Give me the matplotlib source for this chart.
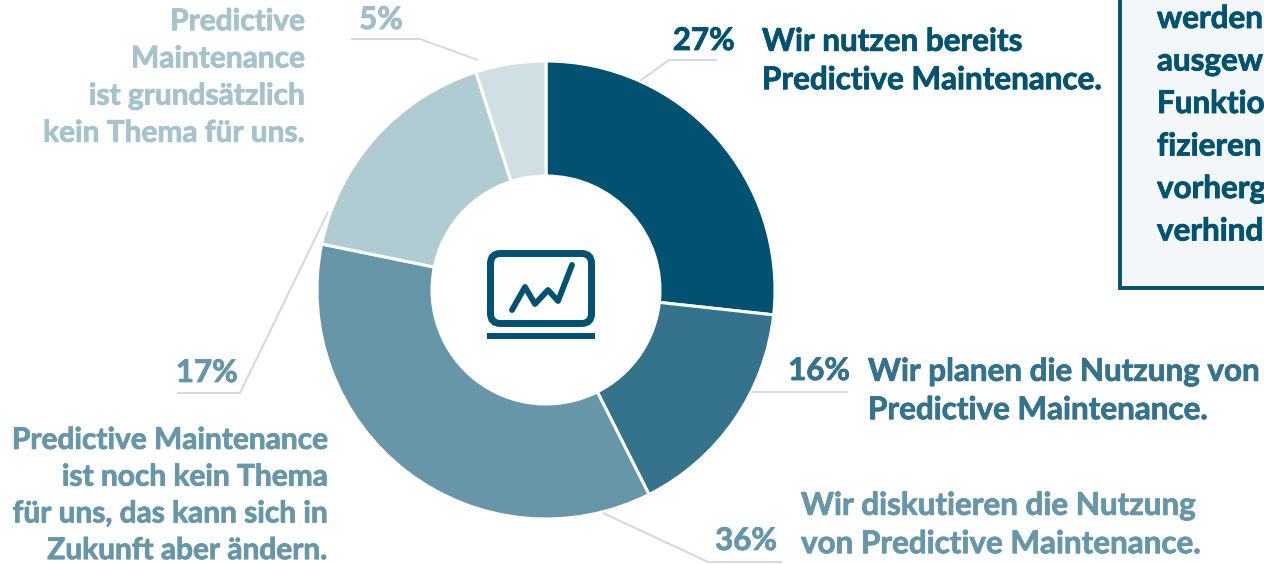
import matplotlib as mpl

mpl.use("Agg")
import matplotlib.patheffects as pe
import matplotlib.pyplot as plt
from matplotlib.patches import FancyBboxPatch, Rectangle

W, H = 1264, 564

shares = [27, 16, 36, 17, 5]
colors = ["#005270", "#35738c", "#6796a9", "#b1cbd3", "#d0dfe4"]
pct_labels = ["27%", "16%", "36%", "17%", "5%"]
labels = [
    "Wir nutzen bereits\nPredictive Maintenance.",
    "Wir planen die Nutzung von\nPredictive Maintenance.",
    "Wir diskutieren die Nutzung\nvon Predictive Maintenance.",
    "Predictive Maintenance\nist noch kein Thema\nfür uns, das kann sich in\nZukunft aber ändern.",
    "Predictive\nMaintenance\nist grundsätzlich\nkein Thema für uns.",
]
box_lines = ["werden", "ausgew", "Funktio", "fizieren", "vorherg", "verhind"]

plt.rcParams["font.family"] = ["Lato", "DejaVu Sans"]
plt.rcParams["font.weight"] = "bold"

fig = plt.figure(figsize=(W / 100, H / 100), dpi=100)
ax = fig.add_axes([0, 0, 1, 1])


def flip(points):
    # layout was read in screen pixels, y runs downward there
    return [p[0] for p in points], [H - p[1] for p in points]


def heavier(c):
    # Lato bold is a bit thin against the original face
    return [pe.withStroke(linewidth=0.6, foreground=c)]


ax.pie(
    shares,
    colors=colors,
    center=(546, H - 290),
    radius=229,
    startangle=90,
    counterclock=False,
    wedgeprops={"width": 115, "edgecolor": "white", "linewidth": 2.2},
)
ax.set_xlim(0, W)
ax.set_ylim(0, H)
ax.set_aspect("equal")
ax.axis("off")

# leader lines
leaders = [
    [(640, 81), (669, 60), (717, 60)],
    [(752, 392), (848, 392)],
    [(603, 513), (708, 562), (782, 562)],
    [(328, 212), (240, 393), (177, 393)],
    [(478, 60), (420, 39), (351, 39)],
]
for pts in leaders:
    xs, ys = flip(pts)
    ax.plot(xs, ys, color="#d9d9d9", lw=1.5, solid_capstyle="butt", zorder=1)

# percentages
pct_pos = [(735, 41, "right"), (850, 371, "right"), (777, 541, "right"),
           (238, 373, "right"), (403, 20, "right")]
for txt, (x, y, ha), c in zip(pct_labels, pct_pos, ["#005270", "#35738c", "#6796a9", "#6796a9", "#9fbec9"]):
    ax.text(x, H - y, txt, color=c, fontsize=22.5, ha=ha, va="center", path_effects=heavier(c))

# category labels
label_pos = [(762, 61, "left"), (868, 391, "left"), (801, 525, "left"),
             (328, 495, "right"), (305, 77, "right")]
label_colors = ["#005270", "#35738c", "#6796a9", "#6796a9", "#a6c3cd"]
label_sizes = [22.6, 22.6, 22.6, 21.5, 21.5]
label_spacing = [1.45, 1.45, 1.45, 1.38, 1.4]
for txt, (x, y, ha), c, fs, ls in zip(labels, label_pos, label_colors, label_sizes, label_spacing):
    ax.text(x, H - y, txt, color=c, fontsize=fs, ha=ha, va="center", multialignment=ha, linespacing=ls,
            path_effects=heavier(c))

# info box, runs off the top and right edge
ax.add_patch(Rectangle((1120, H - 288), 170, 320, facecolor="#f3f7f9", edgecolor="#005270", lw=2.8, zorder=2))
for i, line in enumerate(box_lines):
    ax.text(1157, H - (19 + 42.5 * i), line, color="#005270", fontsize=22.6, ha="left", va="center", zorder=3,
            path_effects=heavier("#005270"))

# monitor icon in the hole
ax.add_patch(FancyBboxPatch((490.5, H - 323.5), 101, 70, boxstyle="round,pad=0,rounding_size=10",
                            facecolor="none", edgecolor="#005270", lw=5, zorder=3))
ax.add_patch(Rectangle((487, H - 339), 108, 6, facecolor="#005270", edgecolor="none", zorder=3))
xs, ys = flip([(512, 310), (525, 287), (535, 304), (548, 290), (558, 301), (572, 265)])
ax.plot(xs, ys, color="#005270", lw=4.2, solid_capstyle="round", solid_joinstyle="round", zorder=3)

fig.savefig("out.png", dpi=100)
plt.close(fig)
